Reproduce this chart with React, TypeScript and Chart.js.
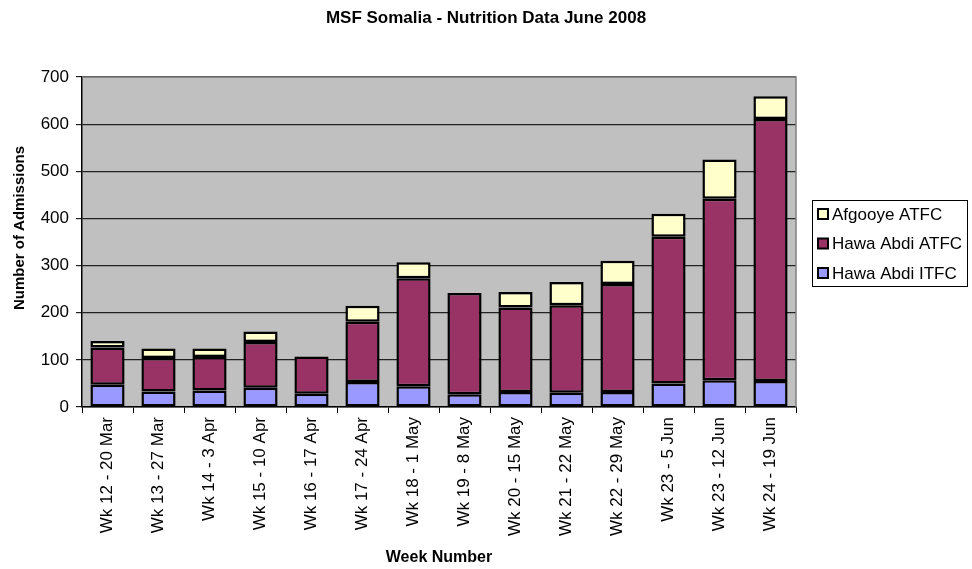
import React, { useEffect, useRef } from "react";
import { Chart, registerables } from "chart.js";
Chart.register(...registerables);

const categories = [
  "Wk 12 - 20 Mar", "Wk 13 - 27 Mar", "Wk 14 - 3 Apr", "Wk 15 - 10 Apr", "Wk 16 - 17 Apr",
  "Wk 17 - 24 Apr", "Wk 18 - 1 May", "Wk 19 - 8 May", "Wk 20 - 15 May", "Wk 21 - 22 May",
  "Wk 22 - 29 May", "Wk 23 - 5 Jun", "Wk 23 - 12 Jun", "Wk 24 - 19 Jun",
];
const hawaAbdiITFC = [47, 33, 35, 41, 28, 53, 44, 27, 32, 30, 32, 50, 57, 55];
const hawaAbdiATFC = [79, 71, 71, 97, 79, 128, 229, 215, 179, 186, 229, 311, 385, 556];
const afgooyeATFC = [14, 20, 18, 22, 0, 34, 34, 0, 33, 49, 49, 49, 83, 48];
const titleText = "MSF Somalia - Nutrition Data June 2008";
const yTitleText = "Number of Admissions";

const FONT = "'Liberation Sans', Arial, sans-serif";

const decor = {
  id: "decor",
  beforeDraw(chart: any) {
    const { ctx, chartArea: a } = chart;
    ctx.save();
    ctx.fillStyle = "#c0c0c0";
    ctx.fillRect(a.left, a.top, a.right - a.left, a.bottom - a.top);
    ctx.restore();
  },
  afterDraw(chart: any) {
    const { ctx, chartArea: a } = chart;
    ctx.save();
    // plot frame (top/right)
    ctx.strokeStyle = "#808080";
    ctx.lineWidth = 1.5;
    ctx.beginPath();
    ctx.moveTo(a.left, a.top);
    ctx.lineTo(a.right, a.top);
    ctx.lineTo(a.right, a.bottom);
    ctx.stroke();
    // title
    ctx.fillStyle = "#000";
    ctx.font = `bold 17px ${FONT}`;
    ctx.textAlign = "center";
    ctx.textBaseline = "middle";
    ctx.fillText(titleText, 486, 18);
    // y axis title
    ctx.save();
    ctx.translate(20, 228);
    ctx.rotate(-Math.PI / 2);
    ctx.font = `bold 15px ${FONT}`;
    ctx.fillText(yTitleText, 0, 0);
    ctx.restore();
    // legend
    const lx = a.right + 16;
    const ly = 200;
    const lw = 156;
    const lh = 87;
    ctx.fillStyle = "#fff";
    ctx.fillRect(lx, ly, lw, lh);
    ctx.strokeStyle = "#000";
    ctx.lineWidth = 1;
    ctx.strokeRect(lx + 0.5, ly + 0.5, lw - 1, lh - 1);
    const items = [...chart.data.datasets].reverse();
    ctx.font = `17px ${FONT}`;
    ctx.textAlign = "left";
    items.forEach((d: any, i: number) => {
      const cy = ly + 14 + i * 29.5;
      ctx.fillStyle = d.backgroundColor;
      ctx.fillRect(lx + 6, cy - 5, 10, 10);
      ctx.lineWidth = 2;
      ctx.strokeStyle = "#000";
      ctx.strokeRect(lx + 6, cy - 5, 10, 10);
      ctx.fillStyle = "#000";
      ctx.fillText(d.label, lx + 20, cy + 1);
    });
    ctx.restore();
  },
};

export default function App() {
  const ref = useRef<HTMLCanvasElement>(null);
  useEffect(() => {
    const ds = (label: string, data: number[], color: string) => ({
      label,
      data,
      backgroundColor: color,
      borderColor: "#000",
      borderWidth: 2.5,
      borderSkipped: false,
      barPercentage: 0.67,
      categoryPercentage: 1,
    });
    const chart = new Chart(ref.current!, {
      type: "bar",
      data: {
        labels: categories,
        datasets: [
          ds("Hawa Abdi ITFC", hawaAbdiITFC, "#9999ff"),
          ds("Hawa Abdi ATFC", hawaAbdiATFC, "#993366"),
          ds("Afgooye ATFC", afgooyeATFC, "#ffffcc"),
        ],
      },
      options: {
        animation: false,
        responsive: false,
        layout: { padding: { top: 77, right: 176, left: 0, bottom: 0 } },
        plugins: {
          title: { display: false },
          legend: { display: false },
          tooltip: { enabled: false },
        },
        scales: {
          x: {
            stacked: true,
            afterFit(scale: any) { scale.height = 162; },
            grid: { display: true, drawOnChartArea: false, color: "#000", tickLength: 6 },
            border: { color: "#000", width: 1.5 },
            ticks: {
              color: "#000",
              minRotation: 90,
              maxRotation: 90,
              autoSkip: false,
              padding: 4,
              font: { family: FONT, size: 17 },
            },
            title: {
              display: true,
              text: "Week Number",
              color: "#000",
              font: { family: FONT, size: 16, weight: "bold" },
              padding: { top: 0, bottom: 2 },
            },
          },
          y: {
            stacked: true,
            min: 0,
            max: 700,
            afterFit(scale: any) { scale.width = 82; },
            ticks: { stepSize: 100, color: "#000", font: { family: FONT, size: 17 }, padding: 7 },
            grid: { color: "#222", lineWidth: 1.2, tickLength: 6 },
            border: { color: "#000", width: 1.5 },
            title: { display: false },
          },
        },
      },
      plugins: [decor],
    });
    return () => chart.destroy();
  }, []);
  return (
    <div style={{ position: "absolute", left: 0, top: 0, width: 972, height: 569, background: "#fff" }}>
      <canvas ref={ref} width={972} height={569} style={{ width: 972, height: 569 }} />
    </div>
  );
}
